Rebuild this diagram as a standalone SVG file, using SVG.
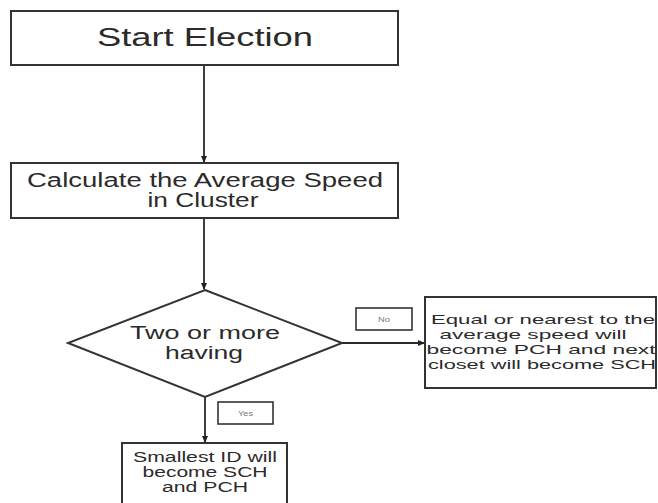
<svg xmlns="http://www.w3.org/2000/svg" width="658" height="503" viewBox="0 0 658 503">
  <defs>
    <marker id="arrow" markerUnits="userSpaceOnUse" markerWidth="7" markerHeight="6" refX="6" refY="3" orient="auto">
      <path d="M0,0 L7,3 L0,6 Z" fill="#222"/>
    </marker>
    <style>
      .box { fill: #ffffff; stroke: #333333; stroke-width: 2; }
      .tag { fill: #ffffff; stroke: #333333; stroke-width: 1.6; }
      .edge { fill: none; stroke: #2a2a2a; stroke-width: 1.8; marker-end: url(#arrow); }
      text { font-family: "Liberation Sans", Arial, sans-serif; fill: #2b2b2b; text-anchor: middle; }
      .tagtxt { fill: #777777; font-size: 7px; }
    </style>
  </defs>
  <rect width="658" height="503" fill="#ffffff"/>

  <g id="connectors">
    <line class="edge" x1="204" y1="65" x2="204" y2="162"/>
    <line class="edge" x1="204" y1="218" x2="204" y2="289"/>
    <line class="edge" x1="342" y1="343" x2="424" y2="343"/>
    <line class="edge" x1="205" y1="397" x2="205" y2="442"/>
  </g>

  <g id="start">
    <rect class="box" x="11" y="11" width="387" height="54"/>
    <text x="205" y="46" font-size="25" textLength="216" lengthAdjust="spacingAndGlyphs">Start Election</text>
  </g>

  <g id="calculate">
    <rect class="box" x="11" y="163" width="387" height="55"/>
    <text x="205" y="187" font-size="19.5" textLength="356" lengthAdjust="spacingAndGlyphs">Calculate the Average Speed</text>
    <text x="203" y="207" font-size="19.5" textLength="111" lengthAdjust="spacingAndGlyphs">in Cluster</text>
  </g>

  <g id="decision">
    <polygon class="box" points="205,290 342,343 205,397 68,343"/>
    <text x="205" y="339" font-size="18" textLength="150" lengthAdjust="spacingAndGlyphs">Two or more</text>
    <text x="204" y="359" font-size="18" textLength="78" lengthAdjust="spacingAndGlyphs">having</text>
  </g>

  <g id="label-no">
    <rect class="tag" x="356" y="308" width="56" height="22"/>
    <text class="tagtxt" x="384" y="321.5" textLength="12" lengthAdjust="spacingAndGlyphs">No</text>
  </g>

  <g id="label-yes">
    <rect class="tag" x="218" y="402" width="55" height="22"/>
    <text class="tagtxt" x="245.5" y="415.5" textLength="15" lengthAdjust="spacingAndGlyphs">Yes</text>
  </g>

  <g id="nearest">
    <rect class="box" x="425" y="297" width="231" height="91"/>
    <text x="543" y="324" font-size="13" textLength="224" lengthAdjust="spacingAndGlyphs">Equal or nearest to the</text>
    <text x="533" y="339" font-size="13" textLength="187" lengthAdjust="spacingAndGlyphs">average speed will</text>
    <text x="541" y="354" font-size="13" textLength="229" lengthAdjust="spacingAndGlyphs">become PCH and next</text>
    <text x="542" y="369" font-size="13" textLength="228" lengthAdjust="spacingAndGlyphs">closet will become SCH</text>
  </g>

  <g id="smallest">
    <rect class="box" x="122" y="443" width="165" height="70"/>
    <text x="205" y="462" font-size="14" textLength="144" lengthAdjust="spacingAndGlyphs">Smallest ID will</text>
    <text x="205" y="477" font-size="14" textLength="125" lengthAdjust="spacingAndGlyphs">become SCH</text>
    <text x="205" y="492" font-size="14" textLength="86" lengthAdjust="spacingAndGlyphs">and PCH</text>
  </g>
</svg>
